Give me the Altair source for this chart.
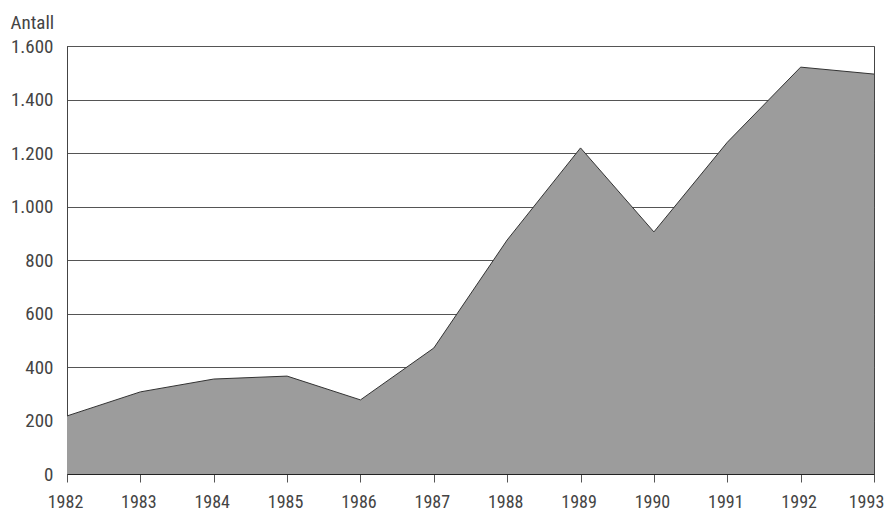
import altair as alt
import pandas as pd

years = [1982, 1983, 1984, 1985, 1986, 1987, 1988, 1989, 1990, 1991, 1992, 1993]
antall = [217, 307, 355, 366, 277, 471, 875, 1219, 905, 1240, 1521, 1495]
y_ticks = [0, 200, 400, 600, 800, 1000, 1200, 1400, 1600]

df = pd.DataFrame({"year": years, "antall": antall})

FONT = "Liberation Sans Narrow, Roboto Condensed, Liberation Sans"

x = alt.X(
    "year:Q",
    scale=alt.Scale(domain=[1982, 1993], nice=False, zero=False),
    axis=alt.Axis(
        values=years,
        format="d",
        title=None,
        grid=False,
        tickSize=8,
        tickColor="#555",
        domainColor="#222",
        labelPadding=11,
        labelFontSize=18,
        labelFont=FONT,
        labelColor="#444",
        labelFlush=False,
        labelOverlap=False,
        labelOffset={"condition": {"test": "datum.value == 1993", "value": -8}, "value": -2},
    ),
)
y = alt.Y(
    "antall:Q",
    scale=alt.Scale(domain=[0, 1600], nice=False),
    axis=alt.Axis(
        values=y_ticks,
        labelExpr="replace(format(datum.value, ',d'), ',', '.')",
        title="Antall",
        titleAngle=0,
        titleAlign="left",
        titleBaseline="alphabetic",
        titleX=-57,
        titleY=-18,
        titleFont=FONT,
        titleFontSize=19,
        titleFontWeight="normal",
        titleColor="#444",
        ticks=False,
        labelPadding=14,
        labelFontSize=19,
        labelFont=FONT,
        labelColor="#444",
        domainColor="#444",
        gridColor="#555",
        gridWidth=1,
        gridOpacity=1,
    ),
)

area = alt.Chart(df).mark_area(
    color="#9c9c9c", opacity=1, line={"color": "#333", "strokeWidth": 1}
).encode(x=x, y=y)

chart = (
    area.properties(width=807, height=428)
    .configure_view(stroke="#444", strokeWidth=1)
    .properties(
        autosize=alt.AutoSizeParams(type="none"),
        padding={"left": 59, "top": 38, "right": 10, "bottom": 36},
        background="white",
    )
)

chart.save("out.html", embed_options={"renderer": "svg", "actions": False})
